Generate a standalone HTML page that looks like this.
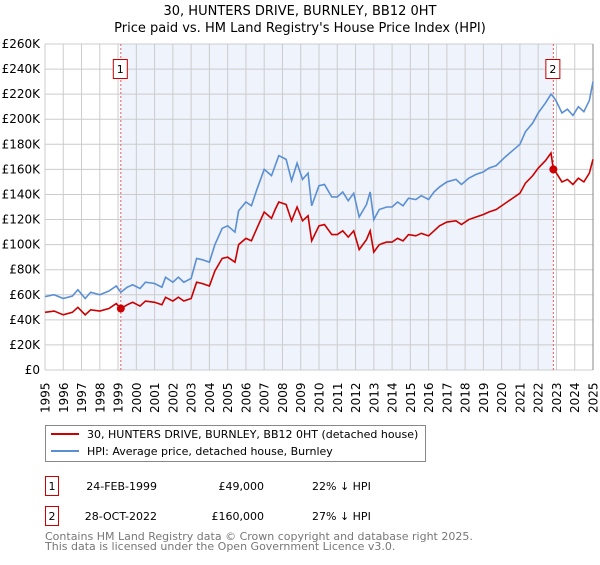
<!DOCTYPE html>
<html><head><meta charset="utf-8"><style>
body{margin:0;background:#fff;font-family:"Liberation Sans","DejaVu Sans",sans-serif;}
svg text{font-family:"DejaVu Sans","Liberation Sans",sans-serif;}
</style></head><body>
<svg id="c" width="600" height="560" xmlns="http://www.w3.org/2000/svg">
<text x="300" y="15" text-anchor="middle" font-size="13">30, HUNTERS DRIVE, BURNLEY, BB12 0HT</text>
<text x="300" y="32" text-anchor="middle" font-size="13">Price paid vs. HM Land Registry's House Price Index (HPI)</text>
<g id="plot"></g>
<g>
<rect x="45.5" y="425.5" width="380" height="36" fill="#fff" stroke="#888"/>
<line x1="51" y1="434" x2="79" y2="434" stroke="#cc0000" stroke-width="2"/>
<text x="87" y="438" font-size="11">30, HUNTERS DRIVE, BURNLEY, BB12 0HT (detached house)</text>
<line x1="51" y1="451" x2="79" y2="451" stroke="#5b8fd4" stroke-width="2"/>
<text x="87" y="455" font-size="11">HPI: Average price, detached house, Burnley</text>
</g>
<g font-size="11">
<rect x="45.5" y="476.5" width="13" height="19" fill="#fff" stroke="#cc0000"/>
<text x="52" y="490" text-anchor="middle">1</text>
<text x="157" y="490" text-anchor="end">24-FEB-1999</text>
<text x="264" y="490" text-anchor="end">£49,000</text>
<text x="312" y="490">22% ↓ HPI</text>
<rect x="45.5" y="506.5" width="13" height="19" fill="#fff" stroke="#cc0000"/>
<text x="52" y="520" text-anchor="middle">2</text>
<text x="157" y="520" text-anchor="end">28-OCT-2022</text>
<text x="264" y="520" text-anchor="end">£160,000</text>
<text x="312" y="520">27% ↓ HPI</text>
</g>
<text x="45" y="540" font-size="11" fill="#777">Contains HM Land Registry data © Crown copyright and database right 2025.</text>
<text x="45" y="550" font-size="11" fill="#777">This data is licensed under the Open Government Licence v3.0.</text>
</svg>
<script>
const dates=[1995.0,1995.5,1996.0,1996.5,1996.8,1997.2,1997.5,1998.0,1998.5,1998.9,1999.15,1999.5,1999.8,2000.2,2000.5,2001.0,2001.4,2001.6,2002.0,2002.3,2002.6,2003.0,2003.3,2003.6,2004.0,2004.3,2004.7,2005.0,2005.4,2005.6,2006.0,2006.3,2006.6,2007.0,2007.4,2007.6,2007.8,2008.2,2008.5,2008.8,2009.1,2009.4,2009.6,2010.0,2010.3,2010.7,2011.0,2011.3,2011.6,2011.9,2012.2,2012.6,2012.8,2013.0,2013.3,2013.7,2014.0,2014.3,2014.6,2014.9,2015.3,2015.6,2016.0,2016.3,2016.6,2017.0,2017.5,2017.8,2018.2,2018.6,2019.0,2019.3,2019.7,2020.2,2020.6,2021.0,2021.3,2021.7,2022.0,2022.4,2022.7,2022.83,2023.0,2023.3,2023.6,2023.9,2024.2,2024.5,2024.8,2025.0];
const hpiValues=[58.5,60,57,59,64,57,62,60,63,67,62,66,68,65,70,69,66,74,70,74,70,73,89,88,86,100,113,115,110,127,134,131,144,160,155,163,171,168,151,165,152,157,131,147,148,138,138,142,135,141,122,132,142,120,128,130,130,134,131,137,136,139,136,142,146,150,152,148,153,156,158,161,163,170,175,180,190,197,205,213,220,218,214,205,208,203,210,206,215,230];
const priceValues=[46,47,44,46,50,44,48,47,49,53,49,52,54,51,55,54,52,58,55,58,55,57,70,69,67,79,89,90,86,100,105,103,113,126,121,128,134,132,119,130,119,123,103,115,116,108,108,111,106,111,96,104,111,94,100,102,102,105,103,108,107,109,107,111,115,118,119,116,120,122,124,126,128,133,137,141,149,155,161,167,173,160,157,150,152,148,153,150,157,168];
const yTicks=[0,20,40,60,80,100,120,140,160,180,200,220,240,260];
const xTicks=[1995,1996,1997,1998,1999,2000,2001,2002,2003,2004,2005,2006,2007,2008,2009,2010,2011,2012,2013,2014,2015,2016,2017,2018,2019,2020,2021,2022,2023,2024,2025];
const saleDates=[1999.15,2022.83];
const saleValues=[49,160];
const saleLabels=["1","2"];
const X0=45,X1=593,Y0=370,Y1=44;
const xs=d=>X0+(d-1995)/30*(X1-X0);
const ys=v=>Y0-v/260*(Y0-Y1);
const NS="http://www.w3.org/2000/svg";
const g=document.getElementById('plot');
function mk(t,a){const e=document.createElementNS(NS,t);for(const k in a)e.setAttribute(k,a[k]);g.appendChild(e);return e;}
const bg=mk('rect',{x:xs(saleDates[0]),y:Y1,width:xs(saleDates[1])-xs(saleDates[0]),height:Y0-Y1,fill:'#eef3fc'});


yTicks.forEach(v=>{
 const l=mk('line',{x1:X0,x2:X1,y1:ys(v),y2:ys(v),stroke:'#cccccc'});
 
 
 const t=mk('text',{x:40,y:ys(v)+4,'text-anchor':'end','font-size':'12'});
 t.textContent='£'+(v===0?'0':v+'K');
 
 
});
xTicks.forEach(y=>{
 const l=mk('line',{x1:xs(y),x2:xs(y),y1:Y1,y2:Y0,stroke:'#cccccc'});
 
 
 const t=mk('text',{x:0,y:0,'font-size':'12',transform:`translate(${xs(y)+4.5},413) rotate(-90)`});
 t.textContent=y;
 
 
});
const edge=mk('line',{x1:X1,x2:X1,y1:Y1,y2:Y0,stroke:'#888'});


saleDates.forEach((d,i)=>{
 const l=mk('line',{x1:xs(d),x2:xs(d),y1:Y1,y2:Y0,stroke:'#e06060','stroke-dasharray':'2,2'});
 
 
 const r=mk('rect',{x:xs(d)-7.5,y:59.5,width:14,height:19,fill:'#fff',stroke:'#cc0000'});
 
 
 const t=mk('text',{x:xs(d)-0.5,y:73,'text-anchor':'middle','font-size':'11'});
 t.textContent=saleLabels[i];
 
 
});
const hp=mk('polyline',{points:dates.map((d,i)=>xs(d)+','+ys(hpiValues[i])).join(' '),fill:'none',stroke:'#5b8fd4','stroke-width':'1.6'});


const pp=mk('polyline',{points:dates.map((d,i)=>xs(d)+','+ys(priceValues[i])).join(' '),fill:'none',stroke:'#cc0000','stroke-width':'1.6'});


saleDates.forEach((d,i)=>{
 const c=mk('circle',{cx:xs(d),cy:ys(saleValues[i]),r:4,fill:'#cc0000'});
 
 
});
</script>
</body></html>
